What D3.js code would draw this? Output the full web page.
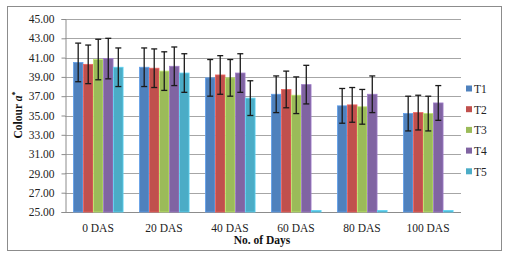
<!DOCTYPE html>
<html><head><meta charset="utf-8">
<script src="https://cdn.jsdelivr.net/npm/d3@7"></script>
<style>body{margin:0;background:#fff;}svg{display:block;}</style>
</head><body>
<svg id="c" width="509" height="257"></svg>
<script>
const categories = ["0 DAS","20 DAS","40 DAS","60 DAS","80 DAS","100 DAS"];
const seriesNames = ["T1","T2","T3","T4","T5"];
const colors = ["#4F81BD","#C0504D","#9BBB59","#8064A2","#4BACC6"];
const T1 = [40.5, 40.0, 38.9, 37.2, 36.0, 35.2];
const T2 = [40.3, 39.9, 39.2, 37.7, 36.1, 35.3];
const T3 = [40.8, 39.6, 38.9, 37.1, 35.9, 35.2];
const T4 = [40.9, 40.1, 39.4, 38.2, 37.2, 36.3];
const T5 = [40.0, 39.4, 36.8, 25.0, 25.0, 25.0];
const E1 = [2.0, 2.0, 1.9, 1.9, 1.8, 1.8];
const E2 = [2.0, 2.0, 2.0, 1.9, 1.8, 1.8];
const E3 = [2.1, 2.0, 1.9, 1.9, 1.8, 1.8];
const E4 = [2.1, 2.0, 2.0, 2.0, 1.9, 1.8];
const E5 = [2.0, 2.0, 1.8, 0, 0, 0];
const yTicks = [25,27,29,31,33,35,37,39,41,43,45];

const values = [T1,T2,T3,T4,T5];
const errors = [E1,E2,E3,E4,E5];

const svg = d3.select("#c");
const font = "'Liberation Serif','Times New Roman',serif";
svg.append("rect").attr("x",7.5).attr("y",6.5).attr("width",494).attr("height",244)
  .attr("fill","#fff").attr("stroke","#8c8c8c").attr("stroke-width",1);

const L=65, R=461, T=19, B=212;
const x = d3.scaleBand().domain(categories).range([L,R]).paddingInner(0.24).paddingOuter(0.12);
const xs = d3.scaleBand().domain(seriesNames).range([0,x.bandwidth()]);
const y = d3.scaleLinear().domain([25,45]).range([B,T]);

// gridlines
svg.append("g").selectAll("line").data(yTicks.slice(1)).join("line")
  .attr("x1",L).attr("x2",R).attr("y1",d=>Math.round(y(d))+0.5).attr("y2",d=>Math.round(y(d))+0.5)
  .attr("stroke","#a6a6a6").attr("stroke-width",1);

// y axis
const yAxis = svg.append("g").attr("transform",`translate(${L+0.5},0)`)
  .call(d3.axisLeft(y).tickValues(yTicks).tickFormat(d3.format(".2f")).tickSize(4).tickPadding(7));
yAxis.select(".domain").attr("stroke","#8c8c8c");
yAxis.selectAll(".tick line").attr("stroke","#8c8c8c");
yAxis.selectAll("text").attr("font-family",font).attr("font-size",11.5).attr("fill","#222");

// x axis
const xAxis = svg.append("g").attr("transform",`translate(0,${B+0.5})`)
  .call(d3.axisBottom(x).tickSize(0).tickPadding(11));
xAxis.select(".domain").attr("stroke","#8c8c8c").attr("d",`M${L},0H${R}`);
xAxis.selectAll("text").attr("font-family",font).attr("font-size",11.5).attr("fill","#222");

// bars
seriesNames.forEach((s,i)=>{
  const g = svg.append("g");
  g.selectAll("rect").data(values[i]).join("rect")
    .attr("x",(d,j)=>x(categories[j])+xs(s)+0.5)
    .attr("width",xs.bandwidth()-0.5)
    .attr("y",d=>Math.min(y(d),B-1.5))
    .attr("height",d=>Math.max(B-y(d),1.5))
    .attr("fill",colors[i])
    .attr("stroke",d3.color(colors[i]).brighter(0.6))
    .attr("stroke-width",0.8);
});

// error bars
seriesNames.forEach((s,i)=>{
  const g = svg.append("g").attr("stroke","#1a1a1a").attr("stroke-width",1.3);
  values[i].forEach((v,j)=>{
    const e = errors[i][j];
    if(!e) return;
    const cx = x(categories[j])+xs(s)+xs.bandwidth()/2+0.25;
    g.append("line").attr("x1",cx).attr("x2",cx).attr("y1",y(v+e)).attr("y2",y(v-e));
    g.append("line").attr("x1",cx-3).attr("x2",cx+3).attr("y1",y(v+e)).attr("y2",y(v+e));
    g.append("line").attr("x1",cx-3).attr("x2",cx+3).attr("y1",y(v-e)).attr("y2",y(v-e));
  });
});

// legend
const lg = svg.append("g");
seriesNames.forEach((s,i)=>{
  const yy = 89 + i*20.7;
  lg.append("rect").attr("x",466).attr("y",yy-3.5).attr("width",6).attr("height",6).attr("fill",colors[i]);
  lg.append("text").attr("x",474).attr("y",yy+4).text(s)
    .attr("font-family",font).attr("font-size",11.5).attr("fill","#222");
});

// titles
svg.append("text").attr("x",262).attr("y",244).attr("text-anchor","middle")
  .attr("font-family",font).attr("font-size",11.5).attr("font-weight","bold").attr("fill","#111")
  .text("No. of Days");
const yt = svg.append("text").attr("transform","translate(22,115) rotate(-90)").attr("text-anchor","middle")
  .attr("font-family",font).attr("font-size",11.5).attr("font-weight","bold").attr("fill","#111");
yt.append("tspan").text("Colour ");
yt.append("tspan").attr("font-style","italic").text("a");
yt.append("tspan").attr("font-size",8).attr("dy",-4).text("*");
</script>
</body></html>
